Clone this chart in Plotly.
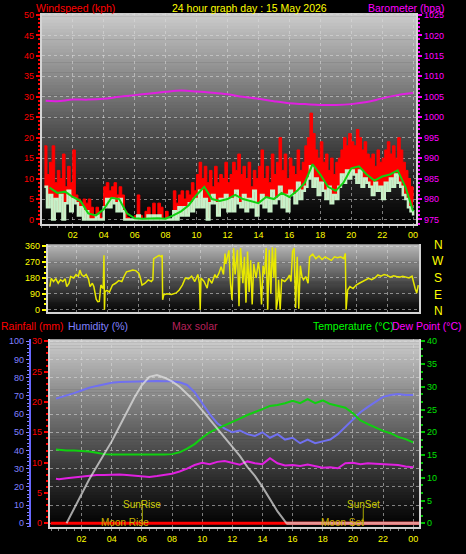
import plotly.graph_objects as go

W, H = 466, 554
def px(x): return x / W
def py(y): return 1 - y / H

# ---------------- data ----------------
hour_ticks = [2, 4, 6, 8, 10, 12, 14, 16, 18, 20, 22, 24]
hour_labels = ['02', '04', '06', '08', '10', '12', '14', '16', '18', '20', '22', '00']

wind_t = [i / 6 for i in range(1, 145)]  # 10-minute samples
wind_gust = [18, 11, 14, 18, 9, 12,   10, 16, 8, 13, 9, 17,   6, 5, 4, 5, 4, 5,
             3, 1, 3, 2, 0.5, 8,      9, 7, 8, 9, 6, 8,       6, 2, 0.5, 0, 0, 1,
             6, 1, 0, 2, 3, 0,        4, 1, 4, 3, 0, 2,       0, 0, 7, 4, 6, 7,
             5, 7, 6, 9, 7, 11,       14, 10, 13, 9, 12, 8,   13, 9, 11, 10, 14, 9,
             11, 14, 12, 16, 11, 13,  10, 14, 8, 12, 10, 13,  17, 10, 13, 9, 16, 11,
             14, 20, 12, 16, 10, 15,  13, 11, 17, 12, 14, 18,  20, 26, 21, 17, 15, 19,
             14, 16, 12, 15, 11, 14,  15, 17, 20, 18, 21, 19,  18, 22, 20, 17, 19, 16,
             15, 16, 13, 17, 14, 15,  17, 19, 16, 18, 15, 20,  17, 14, 12, 10, 8, 5]
wind_speed = [8, 3, 6, 0, 5, 2,   6, 0, 4, 7, 2, 5,   4, 1, 3, 0, 2, 0,
              0, 0, 1, 0, 0, 3,   5, 3, 5, 4, 2, 5,   2, 0, 0, 0, 0, 0,
              1, 0, 0, 0, 1, 0,   1, 0, 1, 0, 0, 0,   0, 0, 2, 0, 3, 1,
              3, 1, 4, 2, 5, 3,   7, 3, 5, 0, 4, 6,   4, 1, 5, 3, 6, 2,
              5, 2, 7, 4, 3, 6,   2, 5, 3, 7, 1, 4,   6, 3, 5, 2, 7, 4,
              5, 8, 3, 6, 2, 7,   6, 4, 9, 5, 7, 8,   10, 13, 8, 10, 6, 9,
              7, 5, 8, 4, 6, 5,   8, 11, 9, 12, 10, 12,  11, 9, 12, 8, 10, 9,
              8, 6, 9, 7, 8, 5,   9, 7, 10, 8, 11, 9,   8, 6, 5, 3, 2, 1]
wind_avg_t = [0.5 * i for i in range(1, 49)]
wind_avg = [7.8, 6.5, 6.8, 5.5, 4.5, 1.5, 1.0, 2.5, 5.3, 5.0, 1.5, 0.3,
            0.2, 0.3, 0.3, 0.2, 1.0, 2.0, 3.5, 6.0, 8.0, 5.0, 4.5, 5.0,
            6.0, 5.0, 4.5, 4.0, 5.5, 5.0, 6.5, 5.5, 7.0, 9.0, 13.5, 11.0,
            8.0, 7.0, 9.0, 12.5, 13.0, 11.0, 9.5, 10.5, 11.0, 12.0, 8.0, 2.0]

baro_t = [0.25, 1, 2, 3, 4, 5, 6, 7, 8, 9, 10, 11, 12, 13, 14, 15, 16, 17, 18, 19, 20, 21, 22, 23, 24]
baro = [1004.0, 1003.9, 1004.3, 1004.3, 1004.5, 1005.0, 1005.4, 1005.8, 1006.2, 1006.5,
        1006.3, 1006.0, 1005.6, 1005.0, 1004.5, 1003.9, 1003.4, 1003.2, 1003.0, 1003.0,
        1003.2, 1003.7, 1004.6, 1005.4, 1005.9]

dir_t = [0.26, 0.35, 0.5, 0.65, 0.8, 0.95, 1.1, 1.25, 1.35, 1.5, 1.6, 1.8, 1.95, 2.1, 2.2,
         2.3, 2.45, 2.6, 2.75, 2.85, 3.0, 3.1, 3.25, 3.35, 3.45, 3.55, 3.7, 3.75, 3.78, 3.82,
         3.95, 4.1, 4.3, 4.5, 4.7, 4.9, 5.05, 5.2, 5.4, 5.6, 5.8, 6.0, 6.1, 6.2, 6.4,
         6.6, 6.8, 6.9, 6.95, 7.1, 7.3, 7.45, 7.5, 7.53, 7.6, 7.8, 8.1, 8.4, 8.6, 8.8,
         9.0, 9.2, 9.4, 9.6, 9.8, 9.9, 9.95, 10.0, 10.2, 10.4, 10.5, 10.7, 10.9, 11.0, 11.15,
         11.3, 11.45, 11.55, 11.6, 11.8, 11.9, 12.0, 12.1, 12.2, 12.35, 12.45, 12.55, 12.7, 12.8, 12.9,
         13.0, 13.1, 13.2, 13.3, 13.4, 13.55, 13.7, 13.8, 13.9, 14.0, 14.1, 14.2, 14.3, 14.4, 14.5,
         14.6, 14.7, 14.8, 14.85, 14.95, 15.0, 15.1, 15.2, 15.4, 15.6, 15.7, 15.8, 15.9, 16.0, 16.1,
         16.2, 16.3, 16.4, 16.5, 16.6, 16.75, 16.9, 17.0, 17.2, 17.4, 17.6, 17.8, 18.0, 18.2, 18.4,
         18.6, 18.8, 19.0, 19.2, 19.3, 19.35, 19.45, 19.6, 19.8, 20.0, 20.2, 20.4, 20.6, 20.8, 21.0,
         21.2, 21.4, 21.6, 21.8, 22.0, 22.2, 22.4, 22.6, 22.8, 23.0, 23.2, 23.4, 23.6, 23.7, 23.8,
         23.9, 24.0]
dir_v = [131, 178, 160, 175, 150, 170, 160, 175, 131, 150, 188, 180, 200, 190, 225,
         200, 188, 200, 175, 131, 150, 130, 60, 45, 47, 140, 120, 309, 0, 103,
         110, 100, 140, 150, 165, 160, 190, 215, 220, 225, 222, 206, 180, 140, 150,
         169, 160, 170, 290, 300, 309, 300, 310, 56, 84, 90, 86, 95, 112, 140,
         180, 175, 190, 160, 200, 150, 0, 180, 160, 122, 178, 150, 200, 180, 206,
         244, 200, 319, 260, 337, 150, 56, 350, 200, 340, 20, 350, 150, 300, 40,
         330, 100, 280, 30, 260, 180, 270, 200, 30, 250, 200, 350, 0, 340, 90,
         355, 180, 350, 0, 60, 170, 0, 170, 160, 180, 197, 160, 330, 350, 10,
         300, 5, 250, 190, 170, 188, 150, 300, 315, 290, 305, 285, 300, 290, 280,
         300, 295, 300, 290, 320, 0, 112, 131, 120, 140, 150, 160, 170, 178, 170,
         180, 197, 190, 200, 195, 185, 192, 188, 185, 190, 185, 180, 190, 150, 120,
         94, 140]

env_t = [0.3] + [0.5 * i for i in range(1, 49)]
humidity = [68.5, 69, 70, 71.5, 73, 74.5, 75.5, 76.5, 77.2, 77.6, 77.8, 78, 78, 78, 78.2, 78, 78,
            77.5, 76, 72, 66, 60, 55, 52, 50, 51, 49, 48, 50, 47, 49, 46, 47, 44, 46, 44, 45,
            46, 49, 53, 57, 61, 64, 67, 69.5, 70.5, 71, 70.5, 70.5]
temperature = [16.2, 16.1, 16.0, 16.0, 15.9, 15.8, 15.5, 15.2, 15.1, 15.1, 15.1, 15.0, 15.0, 15.0,
               15.0, 15.1, 15.2, 15.6, 16.4, 17.4, 18.8, 20.0, 20.8, 21.5, 22.3, 23.0, 23.8, 24.4,
               25.1, 25.8, 26.0, 26.4, 26.9, 26.4, 27.3, 26.4, 27.0, 26.2, 25.8, 25.4, 24.2, 22.6,
               21.8, 21.0, 20.3, 19.8, 19.0, 18.5, 17.8]
dew_point = [9.8, 9.7, 9.9, 10.1, 10.3, 10.4, 10.6, 10.6, 10.7, 10.7, 10.6, 10.5, 10.3, 10.2,
             10.4, 10.6, 10.9, 11.4, 12.0, 12.8, 13.3, 13.0, 13.5, 13.7, 13.3, 12.9, 13.6, 13.2,
             13.0, 14.3, 13.2, 12.7, 12.8, 12.6, 12.9, 12.6, 12.2, 12.3, 12.1, 13.2, 13.3, 13.0,
             13.2, 13.1, 13.0, 12.9, 12.8, 12.5, 12.3]

solar_t = [1.0, 1.5, 2.0, 2.5, 3.0, 3.5, 4.0, 4.5, 5.0, 5.5, 6.0, 6.5, 7.0, 7.5, 8.0, 8.5, 9.0,
           9.5, 10.0, 10.5, 11.0, 11.5, 12.0, 12.5, 13.0, 13.5, 14.0, 14.5, 15.0, 15.5, 15.6, 24.4]
max_solar = [0, 8, 16, 24, 31, 38, 45, 53, 61, 69, 76, 80.5, 81.5, 80, 78, 75, 71,
             67, 62, 57, 52, 47, 42, 37, 31, 26, 20, 13, 6.5, 1, 0, 0]

rain_t = [-0.05, 24.4]
rainfall = [0, 0]

sun_rise, sun_set = 6.03, 20.69
moon_rise, moon_set = 4.9, 19.3

# ---------------- styling ----------------
RED = '#ff0000'
MAG = '#ff00ff'
YEL = '#ffff00'
LIME = '#00ff00'
HUMC = '#8080ff'
SOLC = '#b8205a'
BORDER = '#d4d4d4'
GRID = 'rgba(220,220,220,0.55)'
FONT = 'Liberation Sans, Arial, sans-serif'

fig = go.Figure()

# wind panel
fig.add_trace(go.Scatter(x=wind_t, y=wind_speed, mode='lines', line=dict(width=0, shape='hv'),
                         xaxis='x', yaxis='y', hoverinfo='skip'))
fig.add_trace(go.Scatter(x=wind_t, y=wind_gust, mode='lines', line=dict(width=1, shape='hv', color=RED),
                         fill='tonexty', fillcolor=RED, xaxis='x', yaxis='y'))
fig.add_trace(go.Scatter(x=wind_t, y=wind_speed, mode='lines',
                         line=dict(width=2.5, shape='hv', color='#c8f0c8'), xaxis='x', yaxis='y'))
fig.add_trace(go.Scatter(x=wind_avg_t, y=wind_avg, mode='lines', line=dict(width=2, color='#10d010'),
                         xaxis='x', yaxis='y'))
fig.add_trace(go.Scatter(x=baro_t, y=baro, mode='lines', line=dict(width=2, color='#e020e0', shape='spline'),
                         xaxis='x', yaxis='y2'))

# direction panel
fig.add_trace(go.Scatter(x=dir_t, y=dir_v, mode='lines', line=dict(width=1.5, color='#e8e800'),
                         xaxis='x2', yaxis='y3'))

# lower panel
fig.add_trace(go.Scatter(x=env_t, y=humidity, mode='lines', line=dict(width=2, color='#7070f0'),
                         xaxis='x3', yaxis='y4'))
fig.add_trace(go.Scatter(x=rain_t, y=rainfall, mode='lines', line=dict(width=3, color=RED),
                         xaxis='x3', yaxis='y5'))
fig.add_trace(go.Scatter(x=env_t, y=temperature, mode='lines', line=dict(width=2, color='#10d010'),
                         xaxis='x3', yaxis='y6'))
fig.add_trace(go.Scatter(x=env_t, y=dew_point, mode='lines', line=dict(width=2, color='#e020e0'),
                         xaxis='x3', yaxis='y6'))
fig.add_trace(go.Scatter(x=solar_t, y=max_solar, mode='lines', line=dict(width=2, color='rgba(228,228,228,0.7)'),
                         xaxis='x3', yaxis='y7'))
# after sunset the zero max-solar line sits on the rain line and tints it pink
fig.add_trace(go.Scatter(x=solar_t[-2:], y=max_solar[-2:], mode='lines', line=dict(width=3, color='#e89494'),
                         xaxis='x3', yaxis='y7'))

# gradient backgrounds
shapes = []
def gradient(x0, x1, y0, y1, top, bottom, n=64):
    for i in range(n):
        f = (i + 0.5) / n
        c = int(round(bottom + (top - bottom) * (1 - f) ** 1.15))
        shapes.append(dict(type='rect', xref='paper', yref='paper', layer='below',
                           x0=px(x0), x1=px(x1),
                           y0=py(y0 + (y1 - y0) * (i + 1) / n + 0.6), y1=py(y0 + (y1 - y0) * i / n),
                           fillcolor=f'rgb({c},{c},{c})', line=dict(width=0)))
gradient(42, 418, 10, 223, 205, 2)
gradient(48, 421, 244, 312, 185, 8)
gradient(50, 421, 340, 530, 205, 2)

for h in (sun_rise, sun_set):
    shapes.append(dict(type='line', xref='x3', yref='paper', x0=h, x1=h, y0=py(527), y1=py(510),
                       line=dict(color='#a8a800', width=1)))

ann = []
def text(t, x, y, color, size=10.5, xanchor='left', xref='paper'):
    ann.append(dict(text=t, x=x if xref != 'paper' else px(x), y=py(y), xref=xref, yref='paper',
                    xanchor=xanchor, yanchor='middle', showarrow=False,
                    font=dict(color=color, size=size, family=FONT)))

text('Windspeed (kph)', 34, 5, RED)
text('24 hour graph day : 15 May 2026', 251, 5, YEL, xanchor='center')
text('Barometer (hpa)', 448, 5, MAG, xanchor='right')
text('Rainfall (mm)', -1, 327, RED)
text('Humidity (%)', 66, 327, HUMC)
text('Max solar', 171, 327, SOLC)
text('Temperature (°C)', 312, 327, LIME)
text('Dew Point (°C)', 392, 327, MAG)
for lab, yy in zip(['N', 'W', 'S', 'E', 'N'], [245, 261, 278, 295, 311]):
    text(lab, 440, yy, YEL, size=12, xanchor='center')
text('SunRise', sun_rise, 506.5, '#c8c800', size=10, xanchor='center', xref='x3')
text('SunSet', sun_set, 506.5, '#c8c800', size=10, xanchor='center', xref='x3')
text('Moon Rise', moon_rise, 525, '#c8b400', size=10, xanchor='center', xref='x3')
text('Moon Set', moon_set, 525, '#c8b400', size=10, xanchor='center', xref='x3')

tickfont = lambda c: dict(color=c, size=9, family=FONT)
xcommon = dict(tickmode='array', tickvals=hour_ticks, ticktext=hour_labels, ticks='outside', ticklen=2,
               tickcolor='#909090', showgrid=True, gridcolor=GRID, griddash='dot', gridwidth=1,
               showline=True, linecolor=BORDER, linewidth=2, zeroline=False,
               minor=dict(dtick=0.5, tick0=0, ticks='outside', ticklen=2, tickcolor='#808080'))

fig.update_layout(
    width=W, height=H, margin=dict(l=0, r=0, t=0, b=0),
    paper_bgcolor='black', plot_bgcolor='rgba(0,0,0,0)', showlegend=False,
    font=dict(family=FONT, size=9),
    shapes=shapes, annotations=ann,
    xaxis=dict(domain=[px(42), px(418)], range=[0, 24.2], anchor='y', tickfont=tickfont(YEL), **xcommon),
    yaxis=dict(domain=[py(223), py(10)], range=[-1, 50.5], anchor='x', tick0=0, dtick=5,
               tickfont=tickfont(RED), ticks='outside', ticklen=4, tickwidth=2, tickcolor=RED,
               minor=dict(dtick=1, tick0=0, ticks='outside', ticklen=2, tickwidth=2, tickcolor=RED),
               showgrid=True, gridcolor=GRID, griddash='dot', showline=True, linecolor=BORDER,
               linewidth=2, zeroline=False),
    yaxis2=dict(overlaying='y', side='right', anchor='x', range=[974, 1025.5], tick0=975, dtick=5,
                tickfont=tickfont(MAG), ticks='outside', ticklen=4, tickwidth=2, tickcolor=MAG,
                minor=dict(dtick=1, tick0=975, ticks='outside', ticklen=2, tickwidth=2, tickcolor=MAG),
                showgrid=False, showline=True, linecolor=BORDER, linewidth=2, zeroline=False),
    xaxis2=dict(domain=[px(48), px(421)], range=[0.13, 24.06], anchor='y3', showticklabels=False,
                **{k: v for k, v in xcommon.items() if k not in ('ticks', 'minor')}),
    yaxis3=dict(domain=[py(312), py(244)], range=[-11, 371], anchor='x2', tick0=0, dtick=90,
                tickfont=tickfont(YEL), ticks='outside', ticklen=4, tickwidth=2, tickcolor=YEL,
                minor=dict(dtick=30, tick0=0, ticks='outside', ticklen=2, tickwidth=2, tickcolor=YEL),
                showgrid=True, gridcolor=GRID, griddash='dot', showline=True, mirror=True,
                linecolor=BORDER, linewidth=2, zeroline=False),
    xaxis3=dict(domain=[px(50), px(421)], range=[-0.11, 24.4], anchor='y4', tickfont=tickfont(YEL), **xcommon),
    yaxis4=dict(domain=[py(530), py(340)], range=[-2.2, 101.1], anchor='free', position=px(30), side='left',
                tick0=0, dtick=10, tickfont=tickfont(HUMC), ticks='outside', ticklen=3, tickwidth=1,
                tickcolor=HUMC, minor=dict(dtick=2, tick0=0, ticks='outside', ticklen=2, tickcolor=HUMC),
                showgrid=True, gridcolor=GRID, griddash='dot', showline=True, linecolor='#6868ff',
                linewidth=2, zeroline=False),
    yaxis5=dict(overlaying='y4', anchor='x3', side='left', range=[-0.65, 30.33], tick0=0, dtick=5,
                tickfont=tickfont(RED), ticks='outside', ticklen=4, tickwidth=2, tickcolor=RED,
                minor=dict(dtick=1, tick0=0, ticks='outside', ticklen=2, tickwidth=2, tickcolor=RED),
                showgrid=False, showline=True, linecolor=BORDER, linewidth=2, zeroline=False),
    yaxis6=dict(overlaying='y4', anchor='x3', side='right', range=[-0.87, 40.43], tick0=0, dtick=5,
                tickfont=tickfont('#00e000'), ticks='outside', ticklen=4, tickwidth=2, tickcolor='#00c000',
                minor=dict(dtick=5 / 3, tick0=0, ticks='outside', ticklen=2, tickwidth=2, tickcolor='#00c000'),
                showgrid=False, showline=True, linecolor=BORDER, linewidth=2, zeroline=False),
    yaxis7=dict(overlaying='y4', range=[-2.2, 101.1], visible=False),
)

fig.write_html('out.html', config={'displayModeBar': False},
               post_script="document.body.style.margin='0';document.body.style.padding='0';document.body.style.overflow='hidden';")
